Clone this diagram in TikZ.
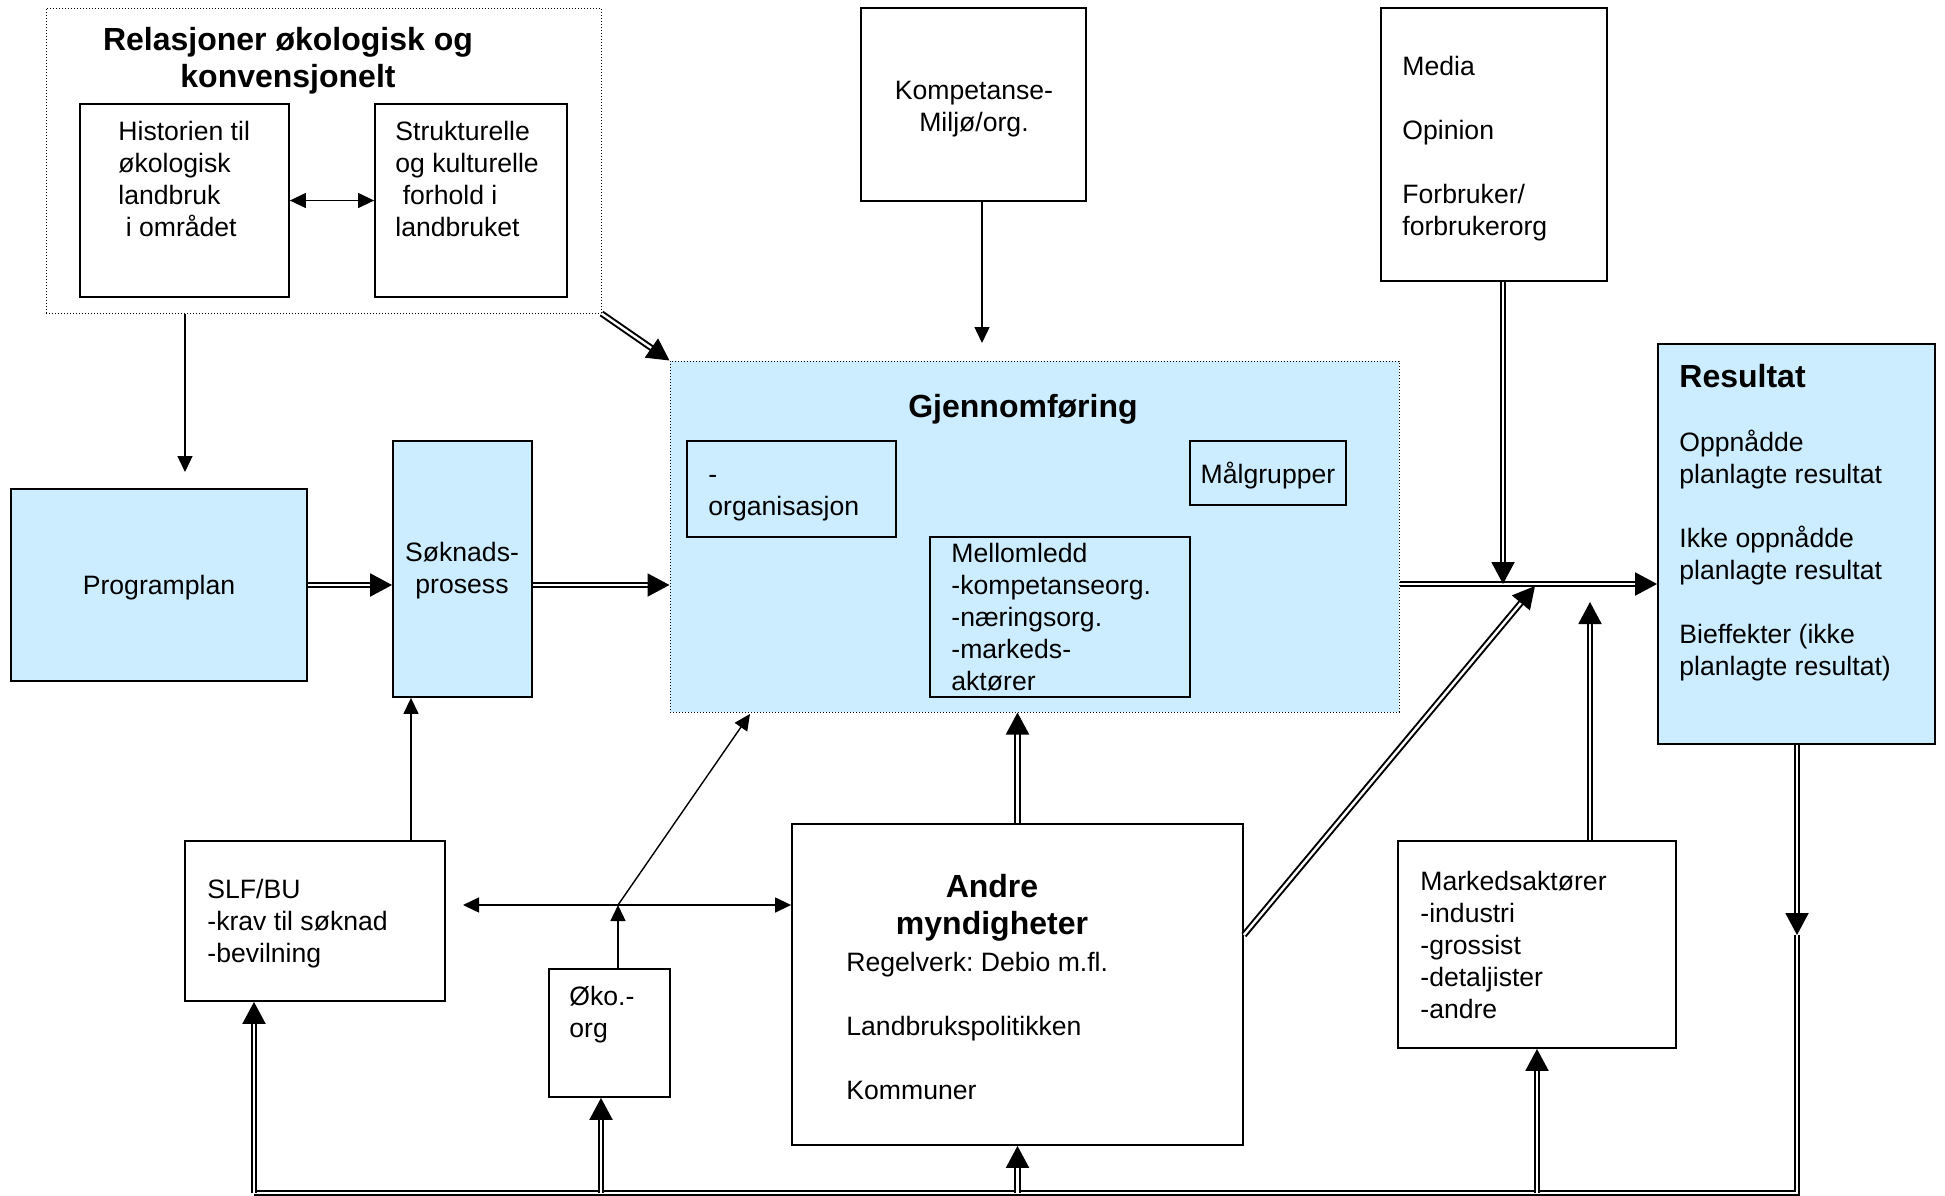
\documentclass[tikz,border=0pt]{standalone}
\usepackage{fontspec}
\setmainfont{Liberation Sans}
\usetikzlibrary{arrows.meta,fit,calc}
\definecolor{paleblue}{HTML}{CCECFF}
\frenchspacing

\begin{document}
\begin{tikzpicture}[
  x=0.5pt, y=-0.5pt,
  box/.style={draw, line width=0.9pt, inner sep=0pt},
  bluebox/.style={box, fill=paleblue},
  group/.style={draw, line width=0.5pt, dash pattern=on 0.6pt off 0.9pt, inner sep=0pt},
  txt/.style={inner sep=0pt, align=left, anchor=north west,
              font=\fontsize{13.3}{16}\selectfont},
  heading/.style={inner sep=0pt, align=center, anchor=north,
                  font=\fontsize{16}{18.6}\selectfont\bfseries},
  arrow/.style={-{Triangle[length=8pt, width=7.5pt]}, line width=0.7pt},
  twoway/.style={{Triangle[length=8pt, width=7.5pt]}-{Triangle[length=8pt, width=7.5pt]}, line width=0.7pt},
  dbl/.style={double, double distance=1.2pt, line width=1pt},
  dblarrow/.style={dbl, -{Triangle[length=11pt, width=11.5pt]}}
]
\useasboundingbox (0,0) rectangle (1945,1195);

\node[group, fit={(46,8) (601,313)}] (rel) {};
\node[heading] (rel-title) at (288,24) {\strut Relasjoner økologisk og\\konvensjonelt};
\node[box, fit={(80,104) (289,297)}] (hist) {};
\node[txt] (hist-txt) at (118,118) {\strut Historien til\\økologisk\\landbruk\\\ i området};
\node[box, fit={(375,104) (567,297)}] (struk) {};
\node[txt] (struk-txt) at (395,118) {\strut Strukturelle\\og kulturelle\\\ forhold i\\landbruket};

\node[box, fit={(861,8) (1086,201)}] (komp) {};
\node[txt, anchor=north, align=center] (komp-txt) at (974,77) {\strut Kompetanse-\\Miljø/org.};
\node[box, fit={(1381,8) (1607,281)}] (media) {};
\node[txt] (media-txt) at (1402,53) {\strut Media\\[16pt]Opinion\\[16pt]Forbruker/\\forbrukerorg};

\node[bluebox, fit={(11,489) (307,681)}] (prog) {};
\node[txt, anchor=base] (prog-txt) at (159,594) {Programplan};
\node[bluebox, fit={(393,441) (532,697)}] (sokn) {};
\node[txt, anchor=north, align=center] (sokn-txt) at (462,539) {\strut Søknads-\\prosess};

\node[group, fill=paleblue, fit={(670,361) (1399,712)}] (gjen) {};
\node[heading, anchor=base] (gjen-title) at (1023,417) {Gjennomføring};
\node[box, fit={(687,441) (896,537)}] (org) {};
\node[txt] (org-txt) at (708,461) {\strut-\\organisasjon};
\node[box, fit={(1190,441) (1346,505)}] (malg) {};
\node[txt, anchor=base] (malg-txt) at (1268,483) {Målgrupper};
\node[box, fit={(930,537) (1190,697)}] (mell) {};
\node[txt] (mell-txt) at (951,540) {\strut Mellomledd\\-kompetanseorg.\\-næringsorg.\\-markeds-\\aktører};

\node[bluebox, fit={(1658,344) (1935,744)}] (res) {};
\node[heading, anchor=base west] (res-title) at (1679,387) {Resultat};
\node[txt] (res-txt) at (1679,429) {\strut Oppnådde\\planlagte resultat\\[16pt]Ikke oppnådde\\planlagte resultat\\[16pt]Bieffekter (ikke\\planlagte resultat)};

\node[box, fit={(185,841) (445,1001)}] (slf) {};
\node[txt] (slf-txt) at (207,876) {\strut SLF/BU\\-krav til søknad\\-bevilning};
\node[box, fit={(549,969) (670,1097)}] (oko) {};
\node[txt] (oko-txt) at (569,983) {\strut Øko.-\\org};
\node[box, fit={(792,824) (1243,1145)}] (andre) {};
\node[heading] (andre-title) at (992,871) {\strut Andre\\myndigheter};
\node[txt] (andre-txt) at (846,949) {\strut Regelverk: Debio m.fl.\\[16pt]Landbrukspolitikken\\[16pt]Kommuner};
\node[box, fit={(1398,841) (1676,1048)}] (mark) {};
\node[txt] (mark-txt) at (1420,868) {\strut Markedsaktører\\-industri\\-grossist\\-detaljister\\-andre};

\coordinate (prog-in) at (185,472);
\coordinate (komp-end) at (982,343);
\coordinate (hub) at (1503,584);
\coordinate (diag-end) at (1535,586);
\coordinate (mark-end) at (1590,602);
\coordinate (res-mid) at (1797,935);
\coordinate (bot-r) at (1797,1193);
\coordinate (bot-l) at (254,1193);
\coordinate (oko-in) at (601,1193);
\coordinate (slf-up) at (411,841);
\coordinate (slf-right) at (463,905);
\coordinate (junc) at (618,905);
\coordinate (gjen-in) at (750,714);

\draw[twoway] (hist) -- (struk);
\draw[arrow] (rel.south -| prog-in) -- (prog-in);
\draw[dblarrow] (rel.south east) -- (gjen.north west);
\draw[arrow] (komp.south -| komp-end) -- (komp-end);
\draw[dblarrow] (prog.east) -- (prog.east -| sokn.west);
\draw[dblarrow] (prog.east -| sokn.east) -- (prog.east -| gjen.west);
\draw[dblarrow] (gjen.east |- hub) -- (res.west |- hub);
\draw[dblarrow] (media.south -| hub) -- (hub);
\draw[dblarrow] ([yshift=24.75pt]andre.east) -- (diag-end);
\draw[dblarrow] (mark.north -| mark-end) -- (mark-end);
\draw[dblarrow] (res.south -| res-mid) -- (res-mid);
\draw[dbl] (res-mid) -- (bot-r) -- (bot-l);
\draw[dblarrow] (bot-l) -- (slf.south -| bot-l);
\draw[dblarrow] (oko-in) -- (oko.south -| oko-in);
\draw[dblarrow] (andre.south |- bot-l) -- (andre.south);
\draw[dblarrow] (mark.south |- bot-l) -- (mark.south);
\draw[arrow] (slf-up) -- (slf-up |- sokn.south);
\draw[twoway] (slf-right) -- (slf-right -| andre.west);
\draw[arrow] (oko.north -| junc) -- (junc);
\draw[arrow] (junc) -- (gjen-in);
\draw[dblarrow] (andre.north) -- (andre.north |- gjen.south);
\end{tikzpicture}
\end{document}
